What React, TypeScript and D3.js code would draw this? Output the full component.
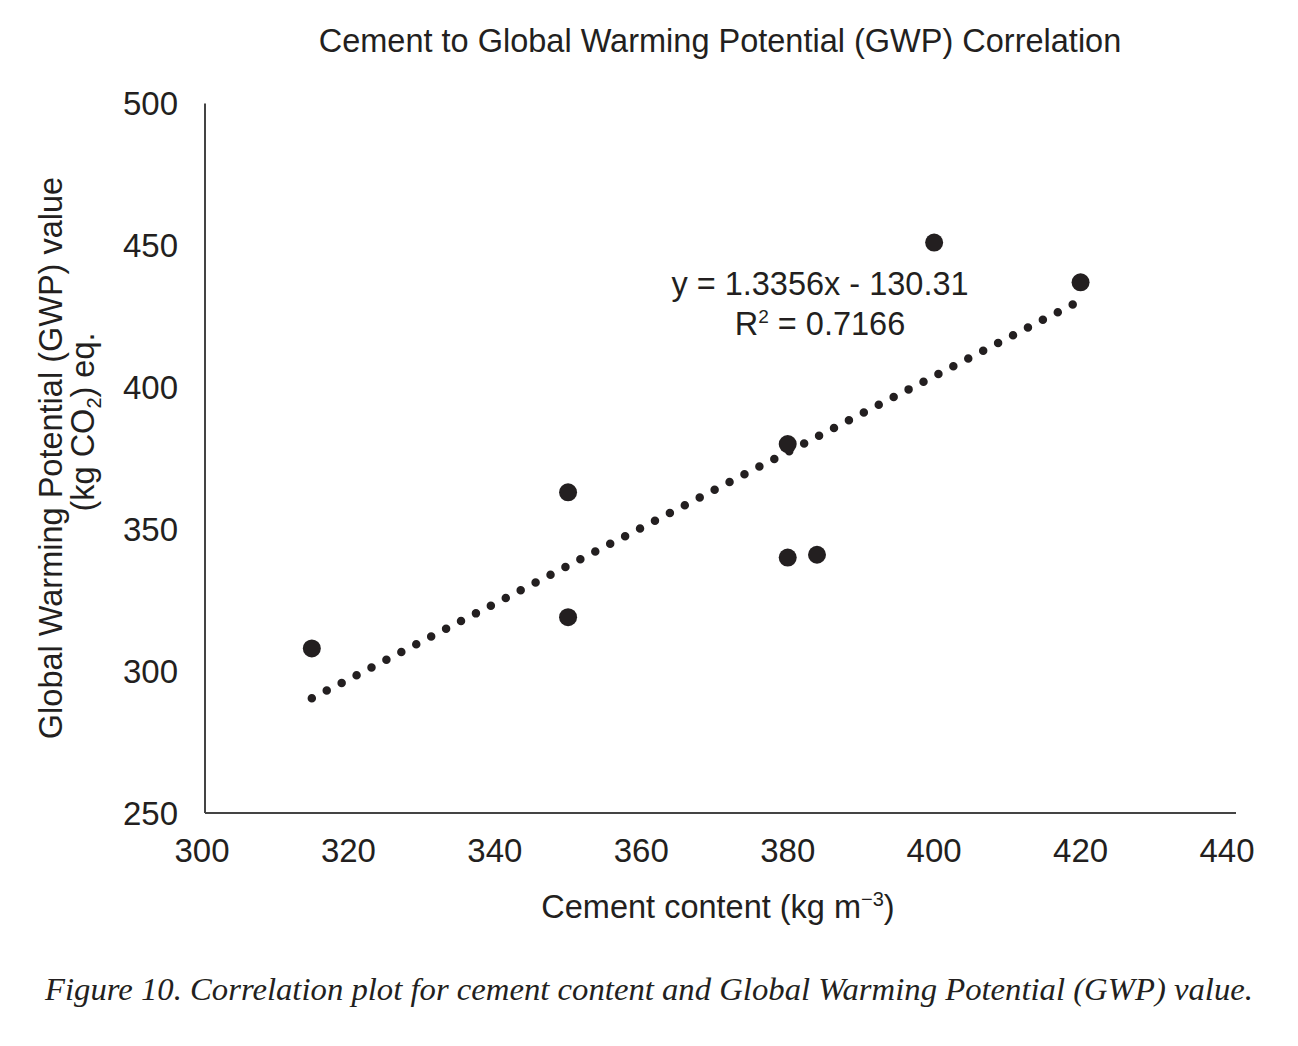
import React from 'react';
import * as d3 from 'd3';

// cement content (kg m-3) vs GWP (kg CO2 eq.)
const cement = [315, 350, 350, 380, 380, 384, 400, 420];
const gwp = [308, 363, 319, 380, 340, 341, 451, 437];

const xTicks = [300, 320, 340, 360, 380, 400, 420, 440];
const yTicks = [250, 300, 350, 400, 450, 500];

const slope = 1.3356;
const intercept = -130.31;
const trendRange = [315, 420];

const ink = '#231f20';
const sans = '"Liberation Sans", Arial, sans-serif';

export default function App() {
  const x = d3.scaleLinear().domain([300, 440]).range([202, 1227]);
  const y = d3.scaleLinear().domain([250, 500]).range([813, 103.5]);

  const points = cement.map((c, i) => ({ c, g: gwp[i] }));
  const trend = d3.line<number>()
    .x(d => x(d))
    .y(d => y(slope * d + intercept));

  const axisLeft = 205;
  const axisRight = 1236;

  return (
    <svg width={1298} height={1046} style={{ position: 'absolute', left: 0, top: 0, background: '#fff' }}>
      <rect width={1298} height={1046} fill="#fff" />

      <text x={720} y={52} textAnchor="middle" fontFamily={sans} fontSize={32.5} fill={ink}>
        Cement to Global Warming Potential (GWP) Correlation
      </text>

      {/* axes */}
      <line x1={axisLeft} x2={axisLeft} y1={y(500)} y2={y(250)} stroke="#444" strokeWidth={2} />
      <line x1={axisLeft} x2={axisRight} y1={y(250)} y2={y(250)} stroke="#444" strokeWidth={2} />

      {yTicks.map(t => (
        <text key={t} x={178} y={y(t)} dy="0.36em" textAnchor="end" fontFamily={sans} fontSize={33} fill={ink}>
          {t}
        </text>
      ))}
      {xTicks.map(t => (
        <text key={t} x={x(t)} y={862} textAnchor="middle" fontFamily={sans} fontSize={33} fill={ink}>
          {t}
        </text>
      ))}

      <text x={718} y={918} textAnchor="middle" fontFamily={sans} fontSize={32.5} fill={ink}>
        Cement content (kg m<tspan dy={-12} fontSize={20}>−3</tspan><tspan dy={12}>)</tspan>
      </text>

      <g transform="rotate(-90)" fontFamily={sans} fontSize={32.5} fill={ink}>
        <text x={-458} y={62} textAnchor="middle">Global Warming Potential (GWP) value</text>
        <text x={-422} y={94} textAnchor="middle">
          (kg CO<tspan dy={7} fontSize={20}>2</tspan><tspan dy={-7}>) eq.</tspan>
        </text>
      </g>

      {/* trendline */}
      <path
        d={trend(trendRange) || ''}
        fill="none"
        stroke={ink}
        strokeWidth={8.5}
        strokeLinecap="round"
        strokeDasharray="0 16.8"
      />

      {points.map((p, i) => (
        <circle key={i} cx={x(p.c)} cy={y(p.g)} r={9} fill={ink} />
      ))}

      <text x={820} y={295} textAnchor="middle" fontFamily={sans} fontSize={32.5} fill={ink}>
        y = 1.3356x - 130.31
      </text>
      <text x={820} y={335} textAnchor="middle" fontFamily={sans} fontSize={32.5} fill={ink}>
        R<tspan dy={-12} fontSize={19}>2</tspan><tspan dy={12}> = 0.7166</tspan>
      </text>

      <text
        x={649}
        y={1000}
        textAnchor="middle"
        fontFamily='"Liberation Serif", "Times New Roman", serif'
        fontStyle="italic"
        fontSize={31}
        fill={ink}
        textLength={1208}
        lengthAdjust="spacingAndGlyphs"
      >
        Figure 10. Correlation plot for cement content and Global Warming Potential (GWP) value.
      </text>
    </svg>
  );
}
